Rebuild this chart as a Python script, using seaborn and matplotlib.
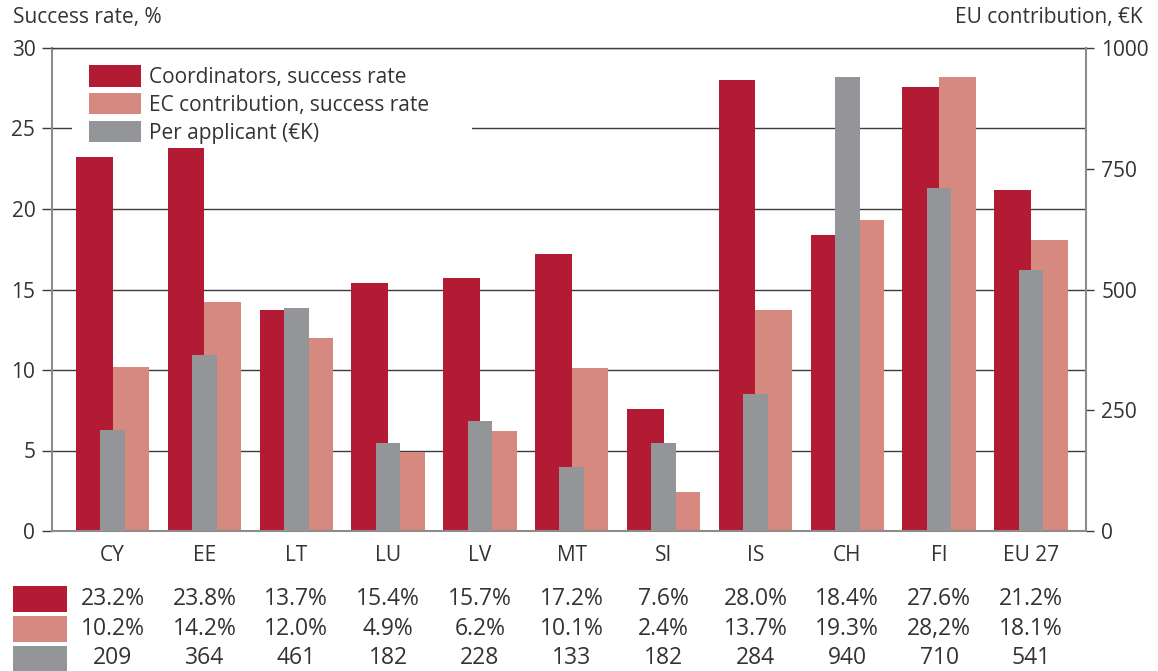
import matplotlib
matplotlib.use("Agg")
import matplotlib.pyplot as plt
import matplotlib.transforms as mtransforms
from matplotlib.patches import Patch, Rectangle
import seaborn as sns
import pandas as pd

countries = ["CY", "EE", "LT", "LU", "LV", "MT", "SI", "IS", "CH", "FI", "EU 27"]
coord_rate = [23.2, 23.8, 13.7, 15.4, 15.7, 17.2, 7.6, 28.0, 18.4, 27.6, 21.2]
ec_rate = [10.2, 14.2, 12.0, 4.9, 6.2, 10.1, 2.4, 13.7, 19.3, 28.2, 18.1]
per_applicant = [209, 364, 461, 182, 228, 133, 182, 284, 940, 710, 541]

coord_labels = ["23.2%", "23.8%", "13.7%", "15.4%", "15.7%", "17.2%", "7.6%", "28.0%", "18.4%", "27.6%", "21.2%"]
ec_labels = ["10.2%", "14.2%", "12.0%", "4.9%", "6.2%", "10.1%", "2.4%", "13.7%", "19.3%", "28,2%", "18.1%"]
applicant_labels = ["209", "364", "461", "182", "228", "133", "182", "284", "940", "710", "541"]

series_names = ["Coordinators, success rate", "EC contribution, success rate", "Per applicant (€K)"]
colors = ["#B31B34", "#D6897F", "#939598"]
left_ticks = [0, 5, 10, 15, 20, 25, 30]
right_ticks = [0, 250, 500, 750, 1000]

TXT = "#333333"
SPINE = "#8c8c8c"
GRID = "#3c3c3c"
FS = 15
FS_TABLE = 16.5

sns.set_theme(style="white")
plt.rcParams["font.family"] = ["Open Sans", "DejaVu Sans"]

W, H = 1158, 671
fig = plt.figure(figsize=(W / 100, H / 100), dpi=100)
L, R, T, B = 52, 1086, 48, 531
ax = fig.add_axes([L / W, 1 - B / H, (R - L) / W, (B - T) / H])

df = pd.DataFrame({
    "country": countries * 2,
    "rate": coord_rate + ec_rate,
    "series": [series_names[0]] * len(countries) + [series_names[1]] * len(countries),
})
sns.barplot(data=df, x="country", y="rate", hue="series", order=countries,
            hue_order=series_names[:2], palette=colors[:2], width=0.8, gap=0,
            saturation=1, ax=ax, legend=False, errorbar=None,
            linewidth=0, edgecolor="none", zorder=2)

ax2 = ax.twinx()
df2 = pd.DataFrame({"country": countries, "value": per_applicant})
sns.barplot(data=df2, x="country", y="value", order=countries, color=colors[2],
            width=0.27, saturation=1, ax=ax2, errorbar=None,
            linewidth=0, edgecolor="none")

for a in (ax, ax2):
    a.set_xlim(-0.66, 10.6)
    a.set_xlabel("")
    a.set_ylabel("")

ax.set_ylim(0, 30)
ax.set_yticks(left_ticks)
ax.set_yticklabels([str(t) for t in left_ticks])
ax2.set_ylim(0, 1000)
ax2.set_yticks(right_ticks)
ax2.set_yticklabels([str(t) for t in right_ticks])

ax.yaxis.grid(True, color=GRID, lw=1)
ax.xaxis.grid(False)
ax.set_axisbelow(True)
ax2.grid(False)

for s in ["left", "bottom"]:
    ax.spines[s].set_color(SPINE)
    ax.spines[s].set_linewidth(1.5)
ax.spines["right"].set_visible(False)
ax.spines["top"].set_color(GRID)
ax.spines["top"].set_linewidth(1)
for s in ["left", "top", "bottom"]:
    ax2.spines[s].set_visible(False)
ax2.spines["right"].set_color(SPINE)
ax2.spines["right"].set_linewidth(1.5)

ax.tick_params(axis="y", which="both", left=True, length=7, width=1, color=GRID,
               pad=5, labelsize=FS, labelcolor=TXT, direction="out")
ax.tick_params(axis="x", length=0, pad=10, labelsize=FS, labelcolor=TXT)
ax2.tick_params(axis="y", right=True, length=6, width=1, color=GRID,
                pad=5, labelsize=FS, labelcolor=TXT, direction="out")
ax2.tick_params(axis="x", length=0, labelbottom=False)

# white legend background box (covers gridlines, stays below bars)
ax.add_patch(Rectangle((72 / W, 1 - 146 / H), 400 / W, 92 / H,
                       transform=fig.transFigure, facecolor="white",
                       edgecolor="none", zorder=0.8))

# legend
handles = [Patch(facecolor=c, edgecolor="none") for c in colors]
fpx = FS * 100 / 72
leg = ax2.legend(handles, series_names, loc="upper left",
                 bbox_to_anchor=(80 / W, 1 - 56 / H),
                 bbox_transform=fig.transFigure,
                 frameon=False, fontsize=FS, handlelength=52 / fpx,
                 handleheight=25 / fpx, handletextpad=8 / fpx,
                 labelspacing=5 / fpx, borderpad=0.45, borderaxespad=0)
for t in leg.get_texts():
    t.set_color(TXT)

# axis titles
fig.text(13 / W, 1 - 18 / H, "Success rate, %", ha="left", va="center",
         fontsize=FS, color=TXT)
fig.text(1143 / W, 1 - 18 / H, "EU contribution, €K", ha="right", va="center",
         fontsize=FS, color=TXT)

# data table
trans = mtransforms.blended_transform_factory(ax.transData, fig.transFigure)
rows = [coord_labels, ec_labels, applicant_labels]
row_y = [599, 629, 658]
key_top = [586, 616, 646]
for labels, yc, kt, c in zip(rows, row_y, key_top, colors):
    fig.patches.append(Rectangle((13 / W, 1 - (kt + 26) / H), 54 / W, 26 / H,
                                 transform=fig.transFigure, facecolor=c,
                                 edgecolor="none"))
    for i, lab in enumerate(labels):
        fig.text(i, 1 - yc / H, lab, transform=trans, ha="center", va="center",
                 fontsize=FS_TABLE, color=TXT)

fig.savefig("out.png", dpi=100)
